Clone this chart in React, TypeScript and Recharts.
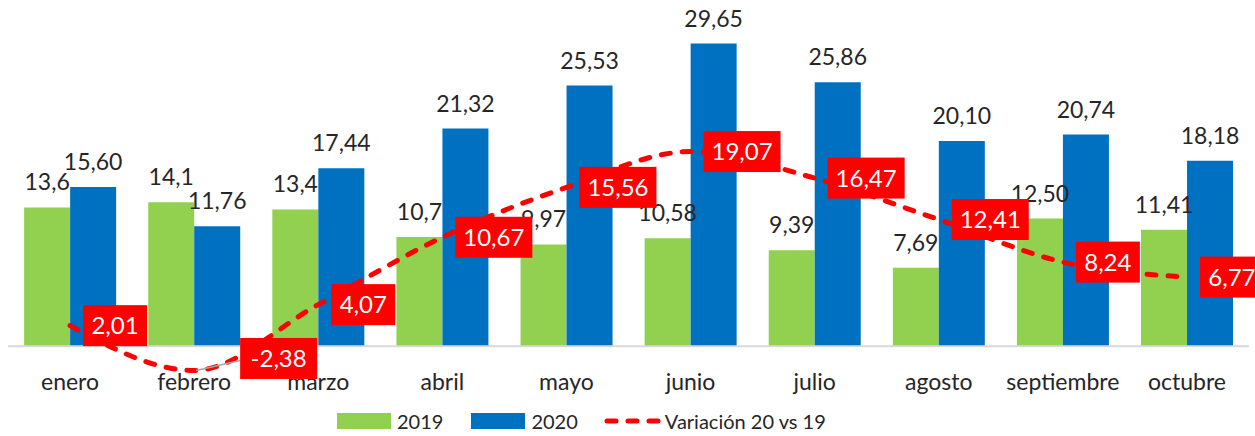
import React from "react";
import {
  ComposedChart,
  Bar,
  Line,
  XAxis,
  YAxis,
  Legend,
  LabelList,
  ReferenceLine,
} from "recharts";

document.body.style.margin = "0";

const months = [
  "enero",
  "febrero",
  "marzo",
  "abril",
  "mayo",
  "junio",
  "julio",
  "agosto",
  "septiembre",
  "octubre",
];
const values2019 = [13.6, 14.1, 13.4, 10.7, 9.97, 10.58, 9.39, 7.69, 12.5, 11.41];
const labels2019 = ["13,6", "14,1", "13,4", "10,7", "9,97", "10,58", "9,39", "7,69", "12,50", "11,41"];
const values2020 = [15.6, 11.76, 17.44, 21.32, 25.53, 29.65, 25.86, 20.1, 20.74, 18.18];
const variation = [2.01, -2.38, 4.07, 10.67, 15.56, 19.07, 16.47, 12.41, 8.24, 6.77];

const data = months.map((m, i) => ({
  month: m,
  y2019: values2019[i],
  y2020: values2020[i],
  variacion: variation[i],
}));

const FONT = "Lato, 'Open Sans', sans-serif";
const TEXT = "#262626";
const GREEN = "#92D050";
const BLUE = "#0070C0";
const RED = "#FF0000";

const comma = (v: number, d: number) => v.toFixed(d).replace(".", ",");

const MonthTick = (props: any) => {
  const { x, y, payload } = props;
  return (
    <text x={x} y={y + 3} textAnchor="middle" fontSize={23} fill={TEXT} fontFamily={FONT}>
      {payload.value}
    </text>
  );
};

const VarLabel = (props: any) => {
  const { x, y, value, index } = props;
  const txt = comma(Number(value), 2);
  const w = txt.length * 13 + 12;
  const h = 41;
  // the febrero label sits off the point with a leader line
  const shifted = index === 1;
  const left = shifted ? x + 46 : x + 13;
  const cy = shifted ? y - 12 : y;
  return (
    <g>
      {shifted && (
        <line x1={x + 2} y1={y} x2={left} y2={cy + 2} stroke="#A6A6A6" strokeWidth={1.5} />
      )}
      <rect x={left} y={cy - h / 2} width={w} height={h} fill={RED} />
      <text
        x={left + w / 2}
        y={cy + 8.5}
        textAnchor="middle"
        fontSize={24}
        fill="#ffffff"
        fontFamily={FONT}
      >
        {txt}
      </text>
    </g>
  );
};

const LegendBox = () => (
  <div
    style={{
      height: 45,
      boxSizing: "border-box",
      paddingTop: 15,
      display: "flex",
      alignItems: "center",
      paddingLeft: 329,
      fontFamily: FONT,
      fontSize: 20,
      color: TEXT,
    }}
  >
    <span style={{ width: 54, height: 16, background: GREEN, display: "inline-block" }} />
    <span style={{ marginLeft: 6 }}>2019</span>
    <span
      style={{ width: 54, height: 16, background: BLUE, display: "inline-block", marginLeft: 28 }}
    />
    <span style={{ marginLeft: 6 }}>2020</span>
    <svg width={58} height={16} style={{ marginLeft: 26 }}>
      <line
        x1={3}
        y1={8}
        x2={55}
        y2={8}
        stroke={RED}
        strokeWidth={5}
        strokeDasharray="9 12"
        strokeLinecap="round"
      />
    </svg>
    <span style={{ marginLeft: 3 }}>Variación 20 vs 19</span>
  </div>
);

export default function App() {
  return (
    <ComposedChart
      width={1255}
      height={436}
      data={data}
      margin={{ top: 40, right: 6, left: 8, bottom: 0 }}
      barCategoryGap="13%"
      barGap={0}
    >
      <XAxis
        dataKey="month"
        axisLine={false}
        tickLine={false}
        tickSize={0}
        tickMargin={0}
        height={4}
        interval={0}
        tick={<MonthTick />}
      />
      <YAxis hide domain={[-4, 30]} />
      <ReferenceLine y={0} stroke="#D9D9D9" strokeWidth={2} />
      <Legend verticalAlign="bottom" height={45} content={<LegendBox />} />
      <Bar dataKey="y2019" name="2019" fill={GREEN} isAnimationActive={false}>
        <LabelList
          dataKey="y2019"
          position="top"
          offset={17}
          fontSize={23}
          fill={TEXT}
          fontFamily={FONT}
          formatter={(v: any) => labels2019[values2019.indexOf(Number(v))]}
        />
      </Bar>
      <Bar dataKey="y2020" name="2020" fill={BLUE} isAnimationActive={false}>
        <LabelList
          dataKey="y2020"
          position="top"
          offset={17}
          fontSize={23}
          fill={TEXT}
          fontFamily={FONT}
          formatter={(v: any) => comma(Number(v), 2)}
        />
      </Bar>
      <Line
        type="monotone"
        dataKey="variacion"
        name="Variación 20 vs 19"
        stroke={RED}
        strokeWidth={5}
        strokeDasharray="9 12"
        strokeLinecap="round"
        dot={false}
        activeDot={false}
        isAnimationActive={false}
      >
        <LabelList dataKey="variacion" content={<VarLabel />} />
      </Line>
    </ComposedChart>
  );
}
